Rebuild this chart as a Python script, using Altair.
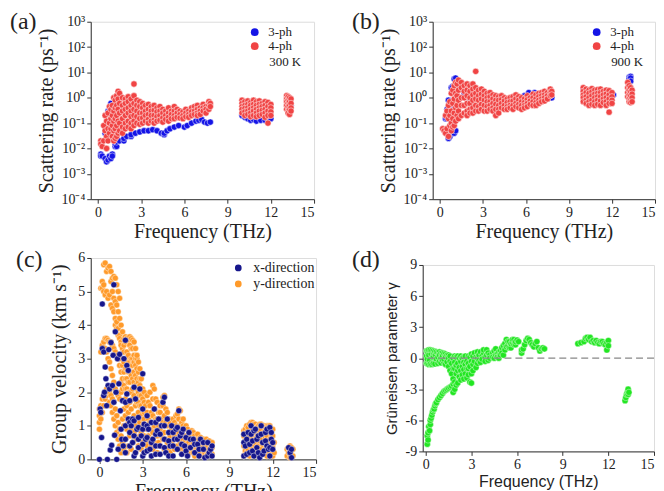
import altair as alt
import pandas as pd

SERIF = "Liberation Serif"
SANS = "Liberation Sans"
BLUE = "#1414e6"
RED = "#f04444"
NAVY = "#16168c"
ORANGE = "#ff9a2a"
GREEN = "#22e622"
INK = "#222222"

FREQ_TICKS = [0, 3, 6, 9, 12, 15]
LOG_TICKS = [1e-4, 1e-3, 1e-2, 1e-1, 1, 10, 100, 1000]
LOG_LABELS = ("datum.value > 500 ? '10³' : datum.value > 50 ? '10²' : datum.value > 5 ? '10¹' : "
              "datum.value > 0.5 ? '10⁰' : datum.value > 0.05 ? '10⁻¹' : datum.value > 0.005 ? '10⁻²' : "
              "datum.value > 0.0005 ? '10⁻³' : '10⁻⁴'")
GAMMA_TICKS = [-9, -6, -3, 0, 3, 6, 9]
GAMMA_LABELS = "datum.value < 0 ? '-' + abs(datum.value) : '' + datum.value"
ZERO_LINE = [0]

# ---------------- (a) 300 K scattering rates: (frequency, [rates]) ----------------
a_3ph = [
    (0.2, [0.006, 0.005]), (0.3, [0.005]), (0.5, [0.004, 0.04]), (0.6, [0.003]),
    (0.7, [0.0035, 0.3]), (0.8, [0.005, 0.3]), (0.9, [0.004, 0.6]), (1.0, [0.006, 0.005]),
    (1.1, [0.13, 0.5]), (1.2, [0.012, 0.015, 0.3]), (1.3, [0.012, 0.018]), (1.5, [0.02]),
    (1.8, [0.02, 0.025]), (2.0, [0.03]), (2.3, [0.03, 0.035]), (2.6, [0.04]), (2.9, [0.045]),
    (3.2, [0.05]), (3.5, [0.05]), (3.8, [0.055]), (4.1, [0.05]), (4.4, [0.04]),
    (4.6, [0.035, 0.04]), (4.8, [0.05]), (5.0, [0.06]), (5.3, [0.07]), (5.6, [0.08]),
    (6.0, [0.07]), (6.2, [0.08]), (6.5, [0.1]), (6.8, [0.12]), (7.0, [0.13]), (7.2, [0.14]),
    (7.4, [0.11]), (7.6, [0.1]), (7.8, [0.11]),
    (10.0, [0.22, 0.2]), (10.2, [0.17]), (10.4, [0.15]), (10.6, [0.13]), (10.8, [0.14]),
    (11.0, [0.12]), (11.3, [0.13]), (11.6, [0.13]), (11.9, [0.14]), (12.0, [0.15]),
    (13.3, [0.6, 0.4]), (13.4, [0.5]),
]
a_4ph = [
    (0.2, [0.02, 0.015]), (0.3, [0.012]), (0.4, [0.08, 0.02]), (0.5, [0.2, 0.05]),
    (0.6, [0.01, 0.03, 0.12]), (0.7, [0.02, 0.06, 0.25]), (0.8, [0.1, 0.04, 0.45]),
    (0.9, [0.35, 0.15, 0.06]), (1.0, [0.5, 0.2, 0.08, 0.03]), (1.1, [1.0, 0.3, 0.12, 0.05, 0.02]),
    (1.2, [0.8, 0.4, 0.15, 0.06, 0.025]), (1.3, [1.2, 0.5, 0.2, 0.08, 0.03]),
    (1.4, [1.8, 0.9, 0.35, 0.12, 0.04]), (1.5, [1.5, 0.6, 0.25, 0.1, 0.05]),
    (1.7, [1.0, 0.5, 0.3, 0.15, 0.07, 0.04]), (1.9, [0.9, 0.6, 0.35, 0.2, 0.1, 0.06]),
    (2.1, [1.1, 0.7, 0.4, 0.25, 0.12, 0.07]), (2.3, [0.9, 0.5, 0.3, 0.18, 0.1, 0.06]),
    (2.5, [3.5, 1.2, 0.6, 0.35, 0.2, 0.12, 0.08]), (2.7, [0.8, 0.5, 0.3, 0.18, 0.1]),
    (2.9, [0.7, 0.45, 0.25, 0.15, 0.09]), (3.1, [0.6, 0.4, 0.25, 0.16, 0.1]),
    (3.3, [0.5, 0.3, 0.2, 0.12]), (3.5, [0.55, 0.35, 0.22, 0.14, 0.1]),
    (3.7, [0.45, 0.3, 0.2, 0.12]), (3.9, [0.5, 0.32, 0.2, 0.13, 0.1]),
    (4.1, [0.4, 0.28, 0.18, 0.12]), (4.3, [0.45, 0.3, 0.2, 0.13]), (4.5, [0.35, 0.25, 0.16, 0.11]),
    (4.7, [0.3, 0.2, 0.14]), (4.9, [0.4, 0.25, 0.17, 0.12]), (5.1, [0.3, 0.22, 0.15]),
    (5.3, [0.45, 0.3, 0.2, 0.15]), (5.5, [0.35, 0.25, 0.17]), (5.7, [0.3, 0.22, 0.16]),
    (5.9, [0.28, 0.2, 0.15]), (6.1, [0.35, 0.25, 0.18]), (6.3, [0.3, 0.22, 0.17]),
    (6.5, [0.4, 0.28, 0.2]), (6.7, [0.45, 0.3, 0.22]), (6.9, [0.5, 0.35, 0.25, 0.2]),
    (7.1, [0.4, 0.3, 0.22]), (7.3, [0.55, 0.4, 0.3]), (7.5, [0.45, 0.35, 0.25]),
    (7.7, [0.7, 0.5, 0.35]), (7.8, [0.6, 0.45]),
    (10.0, [0.8, 0.6, 0.45, 0.35, 0.25]), (10.2, [0.7, 0.5, 0.38, 0.28, 0.2]),
    (10.4, [0.75, 0.55, 0.4, 0.3, 0.22]), (10.6, [0.65, 0.5, 0.35, 0.25, 0.18]),
    (10.8, [0.8, 0.55, 0.4, 0.3, 0.2]), (11.0, [0.7, 0.5, 0.35, 0.25, 0.18]),
    (11.2, [0.75, 0.55, 0.4, 0.3, 0.2]), (11.4, [0.6, 0.45, 0.32, 0.22]),
    (11.6, [0.7, 0.5, 0.35, 0.25, 0.17]), (11.8, [0.65, 0.45, 0.3, 0.2, 0.1]),
    (12.0, [0.55, 0.4, 0.28, 0.2]),
    (13.1, [1.2, 0.9, 0.7, 0.5, 0.35]), (13.2, [1.1, 0.8, 0.6, 0.45, 0.3, 0.25]),
    (13.3, [1.0, 0.7, 0.5, 0.35, 0.22]), (13.4, [0.9, 0.6, 0.4, 0.3]),
]

# ---------------- (b) 900 K scattering rates ----------------
b_3ph = [
    (0.4, [0.15]), (0.5, [0.35, 0.15]), (0.6, [0.8, 0.025]), (0.7, [0.03, 0.25]),
    (0.8, [2.5, 0.2]), (0.9, [2.8, 0.5, 0.04]), (1.0, [5.5, 0.4, 0.04, 0.35]), (1.1, [6.0, 0.05]),
    (1.2, [1.2]), (1.4, [2.5]), (1.7, [1.5]), (2.0, [1.0]), (3.2, [1.5]), (5.9, [1.2]),
    (6.2, [1.6]), (6.6, [1.6]), (7.5, [0.9, 1.0]), (7.8, [1.0]),
    (10.0, [2.2]), (11.0, [1.5]), (12.1, [1.3]),
    (13.2, [6.5, 5.5]), (13.3, [7.0, 6.0, 4.5]),
]
b_4ph = [
    (0.2, [0.06]), (0.3, [0.05]), (0.4, [0.2, 0.04]), (0.5, [0.3, 0.06]),
    (0.6, [0.5, 0.03, 0.15]), (0.7, [0.08, 0.2, 0.7]), (0.8, [1.5, 0.3, 0.1, 0.05]),
    (0.9, [2.0, 0.6, 0.15, 0.07]), (1.0, [3.0, 0.9, 0.25, 0.08]), (1.1, [4.0, 1.5, 0.4, 0.12]),
    (1.2, [3.5, 1.2, 0.5, 0.2]), (1.3, [5.0, 2.0, 0.8, 0.3, 0.15]),
    (1.5, [4.0, 2.5, 1.0, 0.5, 0.2]), (1.7, [3.0, 1.8, 1.0, 0.5, 0.25]),
    (1.9, [3.5, 2.0, 1.2, 0.6, 0.3, 0.2]), (2.1, [3.0, 1.8, 1.0, 0.6, 0.35, 0.25]),
    (2.3, [3.5, 2.2, 1.3, 0.8, 0.4, 0.25]), (2.5, [11.0, 2.5, 1.5, 0.9, 0.5, 0.3]),
    (2.7, [2.0, 1.2, 0.8, 0.45, 0.3]), (2.9, [2.2, 1.4, 0.9, 0.55, 0.35]),
    (3.1, [1.8, 1.2, 0.8, 0.5, 0.3]), (3.3, [1.5, 1.0, 0.7, 0.45, 0.3]),
    (3.5, [1.6, 1.1, 0.7, 0.5, 0.35]), (3.7, [1.3, 0.9, 0.6, 0.4, 0.3]),
    (3.9, [1.2, 0.8, 0.55, 0.35, 0.2]), (4.1, [1.1, 0.8, 0.5, 0.35, 0.25]),
    (4.3, [1.2, 0.85, 0.6, 0.4]), (4.5, [1.0, 0.75, 0.5, 0.35]), (4.7, [0.9, 0.65, 0.45, 0.35]),
    (4.9, [1.0, 0.7, 0.5, 0.4]), (5.1, [1.1, 0.75, 0.5, 0.35]), (5.3, [1.3, 0.9, 0.6, 0.45]),
    (5.5, [1.1, 0.8, 0.55, 0.4]), (5.7, [1.0, 0.7, 0.5, 0.35]), (5.9, [0.9, 0.65, 0.5, 0.4]),
    (6.1, [1.2, 0.85, 0.6, 0.45]), (6.3, [1.0, 0.75, 0.55]), (6.5, [1.4, 1.0, 0.7, 0.5]),
    (6.7, [1.3, 0.9, 0.65, 0.5]), (6.9, [1.5, 1.1, 0.8, 0.6]), (7.1, [1.6, 1.2, 0.9, 0.7]),
    (7.3, [1.8, 1.3, 1.0, 0.75]), (7.5, [1.6, 1.2, 0.9]), (7.7, [2.2, 1.6, 1.2]), (7.8, [1.8, 1.3]),
    (10.0, [2.5, 1.8, 1.3, 1.0, 0.7]), (10.2, [2.2, 1.6, 1.1, 0.8, 0.6]),
    (10.4, [2.0, 1.5, 1.0, 0.7, 0.5]), (10.6, [2.3, 1.7, 1.2, 0.8, 0.55]),
    (10.8, [2.0, 1.4, 1.0, 0.7, 0.5]), (11.0, [2.1, 1.5, 1.1, 0.8, 0.55]),
    (11.2, [2.2, 1.6, 1.1, 0.75, 0.5]), (11.4, [1.8, 1.3, 0.9, 0.65]),
    (11.6, [2.0, 1.4, 1.0, 0.7, 0.5]), (11.8, [1.9, 1.3, 0.9, 0.6, 0.27]),
    (12.0, [1.6, 1.1, 0.8, 0.6]),
    (13.1, [4.0, 2.5, 1.6, 1.1]), (13.2, [3.0, 2.0, 1.3, 0.9, 0.7]),
    (13.3, [2.5, 1.7, 1.2, 0.8, 0.65]), (13.4, [2.0, 1.4, 1.0, 0.7]),
]

# ---------------- (c) group velocity (km/s) ----------------
c_y = [
    (0.0, [0.9, 1.1, 1.3, 1.5]), (0.1, [1.2, 1.6, 5.1, 3.2]), (0.2, [1.4, 1.8, 3.4, 5.1, 5.3]),
    (0.3, [1.6, 1.9, 3.5, 5.0, 5.2, 5.8]), (0.4, [1.8, 2.0, 3.6, 3.3, 4.9, 5.85]),
    (0.5, [1.9, 2.1, 3.6, 3.2, 5.0, 5.6]), (0.6, [2.0, 3.55, 3.0, 4.8, 5.7]),
    (0.7, [2.0, 1.7, 3.5, 2.9, 4.9, 5.75]), (0.8, [1.9, 1.6, 3.5, 2.7, 4.6, 5.6, 5.3]),
    (0.9, [1.8, 1.4, 3.4, 2.5, 4.5, 5.4, 5.0]), (1.0, [1.7, 1.2, 3.3, 2.3, 4.4, 5.45, 4.8]),
    (1.1, [1.5, 1.0, 3.2, 2.1, 4.2, 5.4, 4.7, 4.0]), (1.2, [1.3, 0.8, 3.1, 2.0, 4.1, 5.2, 4.6, 3.9]),
    (1.3, [1.1, 0.6, 3.0, 1.9, 3.9, 5.0, 4.4, 3.7]), (1.4, [0.9, 0.4, 2.8, 1.8, 3.7, 4.8, 4.2, 3.6]),
    (1.5, [0.7, 0.2, 2.6, 2.0, 3.5, 4.0, 3.4, 2.3, 3.0]), (1.6, [0.5, 1.2, 2.4, 2.8, 3.3, 3.8, 2.1]),
    (1.7, [0.3, 1.0, 1.5, 2.2, 2.9, 3.4, 3.6, 3.2, 2.6]), (1.8, [0.6, 1.3, 1.8, 2.4, 3.0, 3.5, 3.65, 2.1, 2.7]),
    (1.9, [0.2, 0.9, 1.6, 2.1, 2.7, 3.2, 3.6, 2.4, 3.0]), (2.0, [0.4, 1.1, 1.4, 2.0, 2.6, 3.1, 3.55, 2.3, 2.9]),
    (2.1, [0.7, 1.2, 1.7, 2.3, 2.9, 3.4, 3.65, 2.0, 2.6]), (2.2, [0.3, 0.9, 1.5, 2.0, 2.5, 3.0, 3.6, 2.8, 3.3]),
    (2.3, [0.5, 1.1, 1.8, 2.4, 2.8, 3.3, 3.55, 2.1, 3.0]), (2.4, [0.8, 1.3, 1.9, 2.6, 3.1, 3.5, 2.3, 2.9]),
    (2.5, [0.2, 1.0, 1.6, 2.2, 2.8, 3.3, 2.5, 3.0]), (2.6, [0.6, 1.2, 1.7, 2.4, 3.0, 3.1, 2.1, 2.7]),
    (2.7, [0.4, 0.9, 1.4, 2.0, 2.6, 2.9, 1.7, 2.3]), (2.8, [0.7, 1.1, 1.6, 2.2, 2.7, 1.9, 2.4]),
    (2.9, [0.3, 0.8, 1.3, 1.9, 2.4, 1.6, 2.1]), (3.0, [0.5, 1.0, 1.5, 2.1, 1.8, 1.2]),
    (3.1, [0.2, 0.7, 1.2, 1.7, 2.0, 1.4]), (3.2, [0.5, 1.0, 1.6]), (3.3, [0.4, 0.9, 1.4, 1.9]),
    (3.4, [0.7, 1.2, 1.7]), (3.5, [0.6, 1.1, 1.6, 2.0]), (3.6, [0.4, 0.9, 1.4]),
    (3.7, [0.3, 0.8, 1.3, 1.8, 2.2]), (3.8, [0.5, 1.0, 1.5, 2.1]), (3.9, [0.7, 1.2, 1.8]),
    (4.0, [0.2, 0.7, 1.2, 1.7]), (4.1, [0.5, 1.0, 1.4]), (4.2, [0.4, 0.9, 1.4, 1.6]),
    (4.3, [0.7, 1.2]), (4.4, [0.6, 1.1, 1.6, 1.85]), (4.5, [0.3, 0.8, 1.3, 1.9]), (4.6, [0.6, 1.1, 1.5]),
    (4.7, [0.5, 1.0, 1.4]), (4.8, [0.3, 0.8, 1.2]), (4.9, [0.2, 0.7, 1.1]), (5.0, [0.5, 0.9]),
    (5.1, [0.4, 0.8, 1.2]), (5.2, [0.3, 0.7, 1.1]), (5.3, [0.6, 1.0, 1.3]), (5.4, [0.4, 0.9, 1.35]),
    (5.5, [0.3, 0.8, 1.2, 1.5]), (5.6, [0.5, 1.0, 1.45]), (5.7, [0.3, 0.7, 1.1]), (5.8, [0.2, 0.6, 1.0, 1.2]),
    (5.9, [0.5, 0.9]), (6.0, [0.4, 0.7, 1.0]), (6.1, [0.3, 0.6, 0.9]), (6.2, [0.2, 0.5, 0.8]),
    (6.3, [0.4, 0.7]), (6.4, [0.3, 0.6, 0.85]), (6.5, [0.2, 0.5, 0.8]), (6.6, [0.1, 0.4, 0.7]),
    (6.7, [0.3, 0.6]), (6.8, [0.3, 0.5, 0.75]), (6.9, [0.2, 0.6]), (7.0, [0.2, 0.45, 0.65]),
    (7.1, [0.3, 0.55]), (7.2, [0.1, 0.35, 0.6]), (7.3, [0.2, 0.5]),
    (7.4, [0.25, 0.45, 0.6]), (7.5, [0.15, 0.4]), (7.6, [0.1, 0.3, 0.55]), (7.7, [0.2, 0.45]),
    (7.8, [0.15, 0.35, 0.5]),
    (10.0, [0.1, 0.4, 0.7, 0.85]), (10.1, [0.25, 0.55, 0.9]), (10.2, [0.2, 0.5, 0.8, 1.0]),
    (10.3, [0.3, 0.65, 0.95]), (10.4, [0.1, 0.4, 0.7, 1.05]), (10.5, [0.2, 0.55, 0.85, 1.1]),
    (10.6, [0.3, 0.6, 0.9, 1.1]), (10.7, [0.15, 0.45, 0.75, 1.05]), (10.8, [0.2, 0.5, 0.8, 1.05]),
    (10.9, [0.3, 0.65, 0.95]), (11.0, [0.1, 0.4, 0.7, 1.0]), (11.1, [0.25, 0.55, 0.85, 1.05]),
    (11.2, [0.3, 0.6, 0.9, 1.05]), (11.3, [0.15, 0.45, 0.75, 1.0]), (11.4, [0.2, 0.5, 0.8, 1.0]),
    (11.5, [0.3, 0.65, 0.95]), (11.6, [0.1, 0.4, 0.7, 1.0]), (11.7, [0.25, 0.55, 0.85, 1.0]),
    (11.8, [0.3, 0.6, 0.9, 1.0]), (11.9, [0.15, 0.45, 0.75]), (12.0, [0.1, 0.4, 0.7, 0.9]),
    (12.1, [0.2, 0.5]),
    (13.0, [0.1, 0.3]), (13.1, [0.2, 0.35]), (13.2, [0.05, 0.25, 0.4]), (13.3, [0.15, 0.35]),
    (13.4, [0.1, 0.3]),
]
c_x = [
    (0.0, [0.0]), (0.05, [1.5]), (0.1, [1.4]), (0.15, [0.65]), (0.2, [3.3, 4.63]),
    (0.3, [3.2, 1.9]), (0.35, [2.0]), (0.4, [2.75]), (0.45, [2.4]), (0.5, [1.6]), (0.55, [0.0]),
    (0.6, [2.2]), (0.65, [3.27]), (0.7, [2.1]), (0.75, [0.28]), (0.8, [3.48]), (0.85, [0.42]),
    (0.9, [2.2]), (0.95, [3.1]), (1.0, [1.7, 5.2]), (1.05, [0.72]), (1.1, [3.8]), (1.15, [2.0]),
    (1.2, [0.0]), (1.25, [3.0]), (1.3, [0.3]), (1.35, [2.25]), (1.4, [3.13]), (1.45, [1.45]),
    (1.5, [0.9]), (1.55, [0.6]), (1.6, [1.75]), (1.65, [0.4]), (1.7, [3.0]),
    (1.8, [3.55, 1.7, 0.2, 0.6, 1.0]), (1.9, [2.8, 1.95]), (2.0, [1.2, 2.65]),
    (2.1, [0.8, 1.75, 0.4, 1.1]), (2.2, [1.0]), (2.3, [0.5, 1.2]), (2.4, [2.15, 0.1, 0.7, 1.15]),
    (2.5, [0.2, 1.8]), (2.6, [0.9]), (2.7, [0.35, 1.25, 0.6, 0.95]), (2.8, [2.1]), (2.9, [0.7]),
    (3.0, [1.5, 2.55, 0.1, 0.45, 0.9]), (3.1, [0.2, 1.05]), (3.2, [0.6]),
    (3.3, [1.3, 0.25, 0.65, 1.0]), (3.4, [0.9]), (3.5, [0.3]), (3.6, [1.1, 0.1, 0.5]),
    (3.7, [0.6]), (3.8, [1.5]), (3.9, [0.15, 0.4, 0.75, 1.1]), (4.0, [0.85]), (4.1, [1.2]),
    (4.2, [0.4, 0.15, 0.75]), (4.3, [1.0]), (4.4, [1.7]), (4.5, [0.6, 1.85, 0.35, 1.0]),
    (4.6, [0.2]), (4.7, [1.2]), (4.8, [0.8, 0.1, 0.55]), (4.9, [0.4]), (5.0, [1.0]),
    (5.1, [0.1, 0.4, 0.8]), (5.2, [0.6]), (5.3, [0.9]), (5.4, [0.3, 0.6, 0.95]), (5.5, [1.45]),
    (5.6, [0.7]), (5.7, [0.15, 0.45, 0.8]), (5.8, [0.9]), (5.9, [0.4]), (6.0, [0.65, 0.25]),
    (6.1, [0.1]), (6.2, [0.8]), (6.3, [0.35, 0.6]), (6.5, [0.6]), (6.6, [0.2, 0.45]),
    (6.8, [0.45]), (6.9, [0.1, 0.3]), (7.0, [0.6]), (7.2, [0.3, 0.5]), (7.3, [0.05]),
    (7.5, [0.5, 0.1]), (7.6, [0.2]), (7.7, [0.3]), (7.8, [0.4, 0.1]),
    (10.0, [0.75, 0.1, 0.5]), (10.1, [0.4]), (10.2, [0.6, 0.15]), (10.3, [0.8]), (10.4, [0.2, 0.45]),
    (10.5, [1.0, 0.75]), (10.6, [0.55, 0.25]), (10.7, [0.1, 0.85]), (10.8, [0.9]),
    (10.9, [0.35, 0.6]), (11.0, [0.7, 0.2]), (11.1, [0.05]), (11.2, [1.0, 0.75]),
    (11.3, [0.5, 0.15]), (11.4, [0.25]), (11.5, [0.8, 0.55]), (11.6, [0.4, 0.9]), (11.7, [0.3]),
    (11.8, [0.95, 0.1, 0.35]), (11.9, [0.6, 0.8]), (12.0, [0.3, 0.5]),
    (13.1, [0.35]), (13.2, [0.2]), (13.3, [0.05, 0.3]),
]

# ---------------- (d) Grüneisen parameter ----------------
d_gamma = [
    (0.05, [0.7, -0.5, 0.2]), (0.1, [-8.3, -7.5, 0.7, -0.5, -0.1]), (0.15, [-7.2, -7.9, 0.5]),
    (0.2, [-6.6, -0.6, 0.8, 0.3]), (0.25, [-7.0, -0.2]), (0.3, [-6.4, -6.0, 0.8, -0.55]),
    (0.35, [-5.8, 0.4]), (0.4, [-5.5, -0.6, 0.75]), (0.45, [-5.2, 0.1]),
    (0.5, [-5.0, 0.7, 0.2, -0.5]), (0.55, [-4.9, 0.45]), (0.6, [-4.6, -0.55, 0.65]),
    (0.65, [-4.4, 0.3]), (0.7, [-4.3, 0.6, -0.1]), (0.8, [-4.0, -0.5, 0.1, 0.55]),
    (0.9, [-3.8, 0.6, 0.3, -0.3]), (1.0, [-3.6, -0.45, 0.0, 0.5]), (1.1, [-3.4, 0.5, 0.2, -0.2]),
    (1.2, [-3.2, -0.4, -0.1, 0.45]), (1.3, [-3.1, 0.4, 0.1, -0.6]), (1.4, [-3.0, -0.35, 0.3]),
    (1.5, [-2.9, 0.3, -0.8, 0.0]), (1.6, [-2.8, -0.3, -1.2, 0.2]), (1.7, [-2.7, -1.5, -0.5]),
    (1.8, [-2.5, -3.3, -2.0, -1.0, 0.0]), (1.9, [-3.0, -1.0, -2.3, -0.4, 0.2]),
    (2.0, [-2.6, -1.5, -0.7, 0.1]), (2.1, [-0.5, -2.4, -1.2, 0.2]), (2.2, [-1.8, 0.0, -0.9]),
    (2.3, [-1.2, -2.1, -0.3, 0.2]), (2.4, [-0.8, -1.6, 0.0]), (2.5, [-2.0, 0.1, -1.1, -0.4]),
    (2.6, [-1.5, -0.6, 0.2]), (2.7, [-0.3, -1.9, -1.0]), (2.8, [-1.0, 0.2, -1.6, -0.5]),
    (2.9, [-2.3, -0.8, 0.1]), (3.0, [-2.4, -1.5, -0.3, 0.4]), (3.1, [-0.6, 0.2, -1.2]),
    (3.2, [-0.3, 0.5]), (3.3, [-0.9, 0.1]), (3.4, [0.0, -0.5, 0.6]), (3.5, [0.3, -0.2]),
    (3.6, [-0.4, 0.6]), (3.7, [0.2, -0.1]), (3.8, [0.5, 0.8]), (3.9, [0.1, -0.3]),
    (4.0, [0.8, 0.3]), (4.1, [-0.2, 0.5]), (4.2, [0.3, 0.0]), (4.4, [0.5, 0.1]),
    (4.5, [0.0, 0.7]), (4.6, [0.9, 0.3]), (4.7, [0.4, 0.1]), (4.8, [0.0, 0.6]),
    (4.9, [0.7, 0.3]), (5.0, [1.0, 0.5]), (5.1, [0.3, 1.2]), (5.2, [1.4, 0.8]),
    (5.3, [1.8, 1.1]), (5.4, [1.2, 1.6]), (5.5, [1.6, 1.0]), (5.6, [1.0, 1.4]),
    (5.7, [1.5, 1.8]), (5.8, [1.8, 1.3]), (5.9, [1.3, 1.6]), (6.0, [1.75]), (6.1, [1.6]),
    (6.3, [0.5, 0.8]), (6.4, [0.9]), (6.5, [1.3]), (6.6, [1.7]), (6.7, [1.9]), (6.8, [1.8]),
    (6.9, [1.5]), (7.0, [1.3]), (7.1, [1.1]), (7.2, [1.4]), (7.3, [1.6]), (7.4, [1.0]),
    (7.5, [0.7]), (7.6, [0.9]), (7.7, [1.0]), (7.8, [0.9]),
    (10.0, [1.4]), (10.2, [1.5]), (10.4, [1.6]), (10.5, [1.9]), (10.6, [2.0]), (10.7, [1.8]),
    (10.8, [2.0]), (10.9, [1.6]), (11.0, [1.7]), (11.1, [1.5]), (11.2, [1.7]), (11.3, [1.5]),
    (11.4, [1.4]), (11.5, [1.6]), (11.6, [1.6]), (11.7, [1.4]), (11.8, [1.3]),
    (11.9, [0.8, 1.5]), (12.0, [1.7, 1.2]),
    (13.1, [-4.1]), (13.15, [-3.8]), (13.2, [-3.5]), (13.25, [-3.3]), (13.3, [-3.0, -3.5]),
    (13.35, [-3.3]),
]


def rows(columns, series):
    return [{"f": f, "v": v, "s": series} for f, vals in columns for v in vals]


def axis(**kw):
    base = dict(grid=False, domainColor="#333", tickColor="#333", tickSize=4,
                labelFont=SERIF, labelFontSize=14, labelColor=INK, labelOverlap=False,
                titleFont=SERIF, titleFontSize=20, titleFontWeight="normal", titleColor=INK,
                labelPadding=2, titlePadding=2)
    base.update(kw)
    return alt.Axis(**base)


def label(text, dx, dy):
    return alt.Chart(pd.DataFrame({"t": [text]})).mark_text(
        font=SERIF, fontSize=24, align="left", baseline="top", color=INK
    ).encode(x=alt.value(dx), y=alt.value(dy), text="t:N")


def note(text, dx, dy):
    return alt.Chart(pd.DataFrame({"t": [text]})).mark_text(
        font=SERIF, fontSize=13, align="left", baseline="middle", color=INK
    ).encode(x=alt.value(dx), y=alt.value(dy), text="t:N")


def rate_panel(three, four, temp, tag, width):
    df = pd.DataFrame(rows(three, "3-ph") + rows(four, "4-ph"))
    pts = alt.Chart(df).mark_circle(size=40, opacity=1, stroke="white", strokeWidth=0.5).encode(
        x=alt.X("f:Q", scale=alt.Scale(domain=[-0.5, 15], nice=False, zero=False),
                axis=axis(values=FREQ_TICKS, title="Frequency (THz)")),
        y=alt.Y("v:Q", scale=alt.Scale(type="log", domain=[1e-4, 1e3], nice=False),
                axis=axis(values=LOG_TICKS, labelExpr=LOG_LABELS, title="Scattering rate (ps⁻¹)",
                          titlePadding=4)),
        color=alt.Color("s:N", scale=alt.Scale(domain=["3-ph", "4-ph"], range=[BLUE, RED]),
                        legend=alt.Legend(title=None, orient="none", legendX=158, legendY=4,
                                          labelFont=SERIF, labelFontSize=13, labelColor=INK,
                                          symbolType="circle", symbolSize=60, symbolStrokeWidth=0,
                                          rowPadding=0, padding=0, labelOffset=7)),
    )
    return alt.layer(pts, note(temp, 179, 40), label(tag, -81, -12)).properties(width=width, height=178)


panel_a = rate_panel(a_3ph, a_4ph, "300 K", "(a)", 224)
panel_b = rate_panel(b_3ph, b_4ph, "900 K", "(b)", 223)

c_df = pd.DataFrame(rows(c_y, "y-direction") + rows(c_x, "x-direction"))
c_pts = alt.Chart(c_df).mark_circle(size=36, opacity=1, stroke="white", strokeWidth=0.4).encode(
    x=alt.X("f:Q", scale=alt.Scale(domain=[-0.6, 15], nice=False, zero=False),
            axis=axis(values=FREQ_TICKS, title="Frequency (THz)")),
    y=alt.Y("v:Q", scale=alt.Scale(domain=[0, 6], nice=False),
            axis=axis(values=[0, 1, 2, 3, 4, 5, 6], title="Group velocity (km s⁻¹)", titlePadding=8)),
    color=alt.Color("s:N", scale=alt.Scale(domain=["x-direction", "y-direction"], range=[NAVY, ORANGE]),
                    legend=alt.Legend(title=None, orient="none", legendX=141, legendY=3,
                                      labelFont=SERIF, labelFontSize=14, labelColor=INK,
                                      symbolType="circle", symbolSize=45, symbolStrokeWidth=0,
                                      rowPadding=2, padding=0, labelOffset=8)),
)
panel_c = alt.layer(c_pts, label("(c)", -75, -10)).properties(width=226, height=202)

d_yscale = alt.Scale(domain=[-9, 9], nice=False)
d_yaxis = axis(values=GAMMA_TICKS, labelExpr=GAMMA_LABELS, title="Grüneisen parameter γ",
               titleFont=SANS, titleFontSize=15, titlePadding=6)
d_df = pd.DataFrame(rows(d_gamma, "γ"))
d_pts = alt.Chart(d_df).mark_circle(size=40, opacity=1, color=GREEN, stroke="white", strokeWidth=0.4).encode(
    x=alt.X("f:Q", scale=alt.Scale(domain=[-0.2, 15], nice=False, zero=False),
            axis=axis(values=FREQ_TICKS, title="Frequency (THz)", titleFont=SANS, titleFontSize=16)),
    y=alt.Y("v:Q", scale=d_yscale, axis=d_yaxis),
)
d_zero = alt.Chart(pd.DataFrame({"v": ZERO_LINE})).mark_rule(
    color="#888", strokeDash=[7, 4], strokeWidth=1.2
).encode(y=alt.Y("v:Q", scale=d_yscale, axis=d_yaxis))
panel_d = alt.layer(d_pts, d_zero, label("(d)", -71, -17)).properties(width=232, height=187)

chart = alt.concat(
    panel_a, panel_b, panel_c, panel_d, columns=2
).properties(
    align="none",
    spacing={"row": 5, "column": 34},
    padding={"left": 1, "top": 0, "right": 0, "bottom": 0},
).resolve_scale(
    color="independent"
).configure_view(stroke="#333", strokeWidth=1).configure(font=SERIF)

chart.save("out.html", embed_options={"renderer": "svg", "actions": False})
